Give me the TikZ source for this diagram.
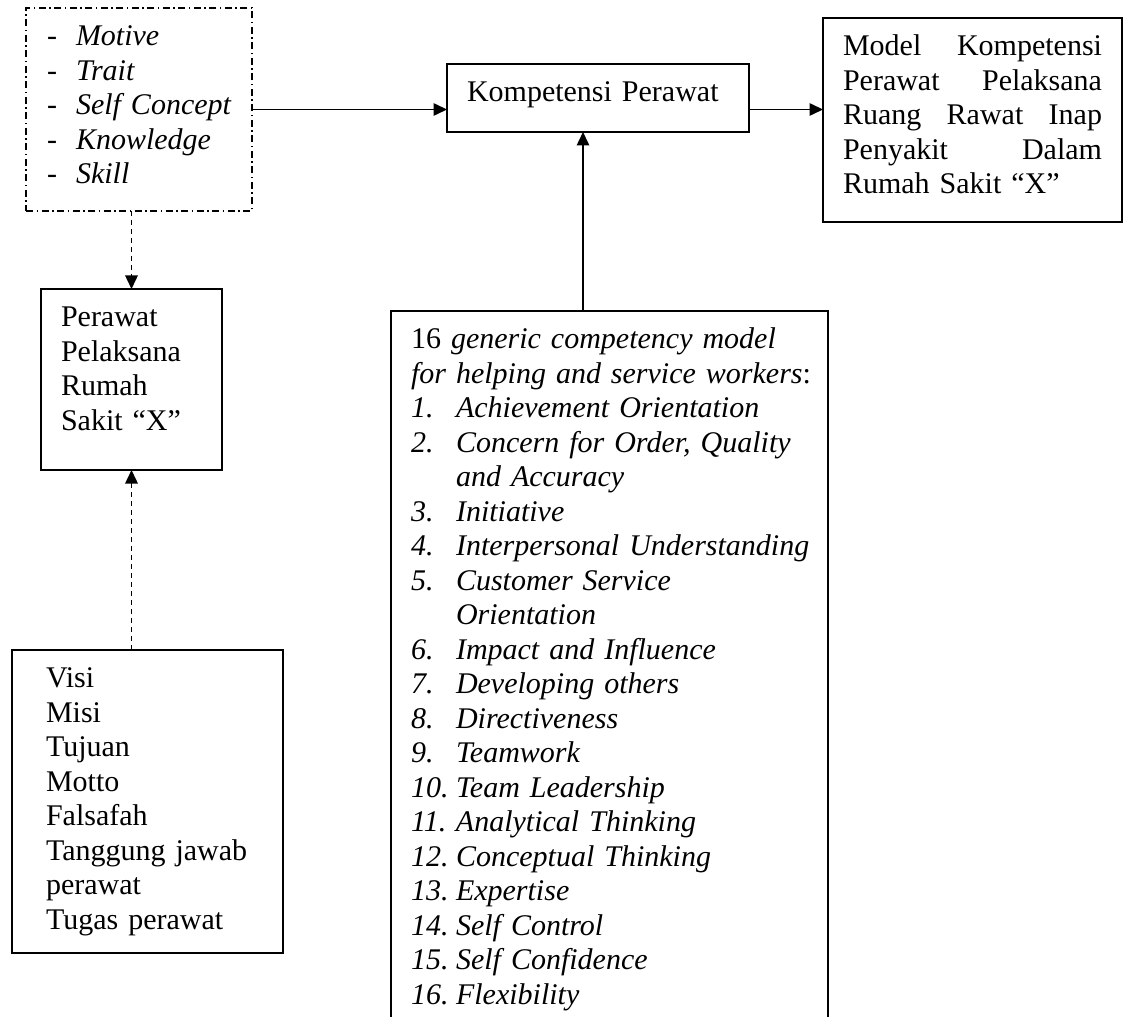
\documentclass[tikz,border=0pt]{standalone}
\usepackage{fontspec}
\setmainfont{Liberation Serif}
\usetikzlibrary{arrows.meta,calc}

\newcommand{\boxfoot}[1]{\rule[-#1]{0pt}{#1}}
\newcommand{\itm}[2]{\mbox{\makebox[18pt][l]{\textit{#1}}\textit{#2}}}
\newcommand{\itmcont}[1]{\mbox{\hspace*{18pt}\textit{#1}}}
\newcommand{\dashitm}[1]{\mbox{\makebox[11.6pt][l]{-}\textit{#1}}}

\begin{document}
\begin{tikzpicture}[x=0.4pt,y=-0.4pt,
		box/.style={draw,line width=0.6pt,anchor=north west,outer sep=0pt,inner ysep=5.5pt,inner xsep=8pt,align=left,font=\fontsize{12pt}{13.8pt}\selectfont},
		arr/.style={line width=0.6pt,-{Triangle[length=5.4pt,width=5pt]}},
		dasharr/.style={arr,dash pattern=on 2pt off 1.6pt}]
	\useasboundingbox (0,0) rectangle (1124,1017);
%	\draw[step=100,gray!30] (0,0) grid (1124,1017);
	\node[box,dash pattern=on 2.8pt off 1.4pt on 0.6pt off 1.4pt,inner xsep=8.4pt,text width=73.6pt] (traits) at (26,8)
		{\strut\dashitm{Motive}\\ \dashitm{Trait}\\ \dashitm{Self Concept}\\ \dashitm{Knowledge}\\ \dashitm{Skill}\boxfoot{5.34pt}};
	\node[box,text width=104.8pt] (komp) at (447,64) {\strut\mbox{Kompetensi Perawat}\boxfoot{6.54pt}};
	\node[box,text width=103.6pt] (model) at (823,18)
		{\strut Model\hfill Kompetensi\\ Perawat\hfill Pelaksana\\ Ruang\hfill Rawat\hfill Inap\\ Penyakit\hfill Dalam\\ \mbox{Rumah Sakit “X”}\boxfoot{5.74pt}};
	\node[box,text width=56.4pt] (perawat) at (41,289)
		{\strut Perawat\\ Pelaksana\\ Rumah\\ \mbox{Sakit “X”}\boxfoot{10.34pt}};
	\node[box,inner xsep=13.6pt,text width=81.2pt] (visi) at (12,650)
		{\strut Visi\\ Misi\\ Tujuan\\ Motto\\ Falsafah\\ \mbox{Tanggung jawab}\\ perawat\\ \mbox{Tugas perawat}\boxfoot{3.94pt}};
	\node[box,text width=158.8pt] (list) at (391,311)
		{\strut\mbox{16 \textit{generic competency model}}\\
		\mbox{\textit{for helping and service workers}:}\\
		\itm{1.}{Achievement Orientation}\\
		\itm{2.}{Concern for Order, Quality}\\
		\itmcont{and Accuracy}\\
		\itm{3.}{Initiative}\\
		\itm{4.}{Interpersonal Understanding}\\
		\itm{5.}{Customer Service}\\
		\itmcont{Orientation}\\
		\itm{6.}{Impact and Influence}\\
		\itm{7.}{Developing others}\\
		\itm{8.}{Directiveness}\\
		\itm{9.}{Teamwork}\\
		\itm{10.}{Team Leadership}\\
		\itm{11.}{Analytical Thinking}\\
		\itm{12.}{Conceptual Thinking}\\
		\itm{13.}{Expertise}\\
		\itm{14.}{Self Control}\\
		\itm{15.}{Self Confidence}\\
		\itm{16.}{Flexibility}\boxfoot{20pt}};
	\coordinate (up) at (583,0);
	\draw[arr] (traits.east) -- (traits.east -| komp.west);
	\draw[arr] (komp.east |- traits.east) -- (model.west |- traits.east);
	\draw[arr] (list.north -| up) -- (komp.south -| up);
	\draw[dasharr] (traits.south -| perawat.north) -- (perawat.north);
	\draw[dasharr] (visi.north -| perawat.south) -- (perawat.south);
\end{tikzpicture}
\end{document}
